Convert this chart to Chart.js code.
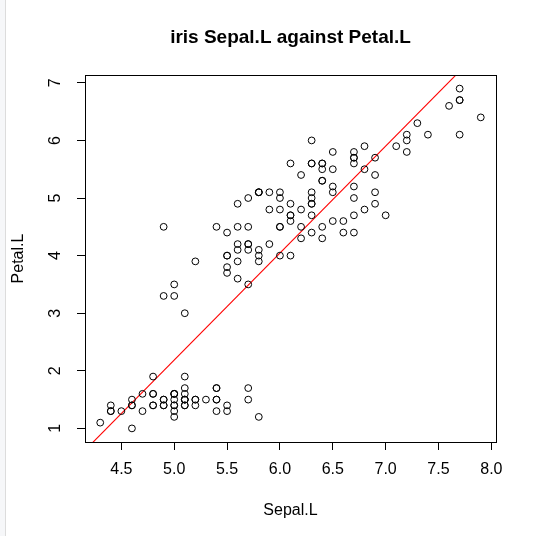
<!DOCTYPE html>
<html>
<head>
<meta charset="utf-8">
<script src="https://cdn.jsdelivr.net/npm/chart.js@4/dist/chart.umd.min.js"></script>
<style>
  html, body { margin: 0; padding: 0; background: #fff; }
  #wrap {
    width: 555px; height: 536px;
    background: linear-gradient(to right, #f6f7f9 0, #f6f7f9 5px, #dcdcdc 5px, #dcdcdc 6px, #fff 6px);
  }
</style>
</head>
<body>
<div id="wrap"><canvas id="irisChart" width="555" height="536"></canvas></div>
<script>
// iris: Sepal.Length and Petal.Length, rows 1..150
var sepalL = [
  5.1, 4.9, 4.7, 4.6, 5.0, 5.4, 4.6, 5.0, 4.4, 4.9, 5.4, 4.8, 4.8, 4.3, 5.8, 5.7, 5.4, 5.1, 5.7, 5.1,
  5.4, 5.1, 4.6, 5.1, 4.8, 5.0, 5.0, 5.2, 5.2, 4.7, 4.8, 5.4, 5.2, 5.5, 4.9, 5.0, 5.5, 4.9, 4.4, 5.1,
  5.0, 4.5, 4.4, 5.0, 5.1, 4.8, 5.1, 4.6, 5.3, 5.0,
  7.0, 6.4, 6.9, 5.5, 6.5, 5.7, 6.3, 4.9, 6.6, 5.2, 5.0, 5.9, 6.0, 6.1, 5.6, 6.7, 5.6, 5.8, 6.2, 5.6,
  5.9, 6.1, 6.3, 6.1, 6.4, 6.6, 6.8, 6.7, 6.0, 5.7, 5.5, 5.5, 5.8, 6.0, 5.4, 6.0, 6.7, 6.3, 5.6, 5.5,
  5.5, 6.1, 5.8, 5.0, 5.6, 5.7, 5.7, 6.2, 5.1, 5.7,
  6.3, 5.8, 7.1, 6.3, 6.5, 7.6, 4.9, 7.3, 6.7, 7.2, 6.5, 6.4, 6.8, 5.7, 5.8, 6.4, 6.5, 7.7, 7.7, 6.0,
  6.9, 5.6, 7.7, 6.3, 6.7, 7.2, 6.2, 6.1, 6.4, 7.2, 7.4, 7.9, 6.4, 6.3, 6.1, 7.7, 6.3, 6.4, 6.0, 6.9,
  6.7, 6.9, 5.8, 6.8, 6.7, 6.7, 6.3, 6.5, 6.2, 5.9
];
var petalL = [
  1.4, 1.4, 1.3, 1.5, 1.4, 1.7, 1.4, 1.5, 1.4, 1.5, 1.5, 1.6, 1.4, 1.1, 1.2, 1.5, 1.3, 1.4, 1.7, 1.5,
  1.7, 1.5, 1.0, 1.7, 1.9, 1.6, 1.6, 1.5, 1.4, 1.6, 1.6, 1.5, 1.5, 1.4, 1.5, 1.2, 1.3, 1.4, 1.3, 1.5,
  1.3, 1.3, 1.3, 1.6, 1.9, 1.4, 1.6, 1.4, 1.5, 1.4,
  4.7, 4.5, 4.9, 4.0, 4.6, 4.5, 4.7, 3.3, 4.6, 3.9, 3.5, 4.2, 4.0, 4.7, 3.6, 4.4, 4.5, 4.1, 4.5, 3.9,
  4.8, 4.0, 4.9, 4.7, 4.3, 4.4, 4.8, 5.0, 4.5, 3.5, 3.8, 3.7, 3.9, 5.1, 4.5, 4.5, 4.7, 4.4, 4.1, 4.0,
  4.4, 4.6, 4.0, 3.3, 4.2, 4.2, 4.2, 4.3, 3.0, 4.1,
  6.0, 5.1, 5.9, 5.6, 5.8, 6.6, 4.5, 6.3, 5.8, 6.1, 5.1, 5.3, 5.5, 5.0, 5.1, 5.3, 5.5, 6.7, 6.9, 5.0,
  5.7, 4.9, 6.7, 4.9, 5.7, 6.0, 4.8, 4.9, 5.6, 5.8, 6.1, 6.4, 5.6, 5.1, 5.6, 6.1, 5.6, 5.5, 4.8, 5.4,
  5.6, 5.1, 5.1, 5.9, 5.7, 5.2, 5.0, 5.2, 5.4, 5.1
];

// red fitted line, two end points (clipped to the box)
var lineX = [4.0, 8.2];
var lineY = [0.33, 8.13];

var xTicks = [4.5, 5.0, 5.5, 6.0, 6.5, 7.0, 7.5, 8.0];
var yTicks = [1, 2, 3, 4, 5, 6, 7];

var FONT = "'Liberation Sans', Arial, sans-serif";

var points = sepalL.map(function (v, i) { return { x: v, y: petalL[i] }; });
var fitLine = lineX.map(function (v, i) { return { x: v, y: lineY[i] }; });

// draws the frame around the plot area, like R's box()
var boxPlugin = {
  id: 'rbox',
  afterDraw: function (chart) {
    var a = chart.chartArea, ctx = chart.ctx;
    ctx.save();
    ctx.strokeStyle = '#000';
    ctx.lineWidth = 1;
    ctx.strokeRect(Math.round(a.left) + 0.5, Math.round(a.top) + 0.5,
      Math.round(a.right - a.left), Math.round(a.bottom - a.top));
    ctx.restore();
  }
};

new Chart(document.getElementById('irisChart').getContext('2d'), {
  type: 'scatter',
  data: {
    datasets: [{
      label: 'iris',
      data: points,
      pointStyle: 'circle',
      pointRadius: 3.4,
      pointHoverRadius: 3.4,
      pointBorderWidth: 1,
      borderColor: '#000',
      backgroundColor: 'rgba(0,0,0,0)'
    }, {
      type: 'line',
      label: 'fit',
      data: fitLine,
      borderColor: '#ff0000',
      borderWidth: 1.1,
      pointRadius: 0,
      fill: false
    }]
  },
  options: {
    responsive: false,
    animation: false,
    events: [],
    layout: { padding: { left: 0, right: 59, top: 0, bottom: 0 } },
    plugins: {
      legend: { display: false },
      tooltip: { enabled: false },
      title: {
        display: true,
        fullSize: false,
        text: 'iris Sepal.L against Petal.L',
        color: '#000',
        font: { family: FONT, size: 19, weight: 'bold', lineHeight: 1.2 },
        padding: { top: 26.6, bottom: 25.6 }
      }
    },
    scales: {
      x: {
        type: 'linear',
        min: 4.156,
        max: 8.044,
        afterFit: function (s) { s.height = 94; },
        afterBuildTicks: function (s) { s.ticks = xTicks.map(function (v) { return { value: v }; }); },
        ticks: {
          color: '#000',
          font: { family: FONT, size: 16 },
          padding: 10,
          maxRotation: 0,
          callback: function (v) { return v.toFixed(1); }
        },
        grid: { drawOnChartArea: false, drawTicks: true, tickLength: 8, color: '#000', tickColor: '#000' },
        border: { display: false },
        title: {
          display: true,
          text: 'Sepal.L',
          color: '#000',
          font: { family: FONT, size: 16, lineHeight: 1.2 },
          padding: { top: 0, bottom: 15.7 }
        }
      },
      y: {
        type: 'linear',
        min: 0.764,
        max: 7.136,
        afterFit: function (s) { s.width = 85; },
        afterBuildTicks: function (s) { s.ticks = yTicks.map(function (v) { return { value: v }; }); },
        ticks: {
          color: '#000',
          font: { family: FONT, size: 16 },
          padding: 17,
          minRotation: 90,
          maxRotation: 90,
          crossAlign: 'center',
          callback: function (v) { return String(v); }
        },
        grid: { drawOnChartArea: false, drawTicks: true, tickLength: 8, color: '#000', tickColor: '#000' },
        border: { display: false },
        title: {
          display: true,
          text: 'Petal.L',
          color: '#000',
          font: { family: FONT, size: 16, lineHeight: 1.2 },
          padding: { top: 9, bottom: 0 }
        }
      }
    }
  },
  plugins: [boxPlugin]
});
</script>
</body>
</html>
